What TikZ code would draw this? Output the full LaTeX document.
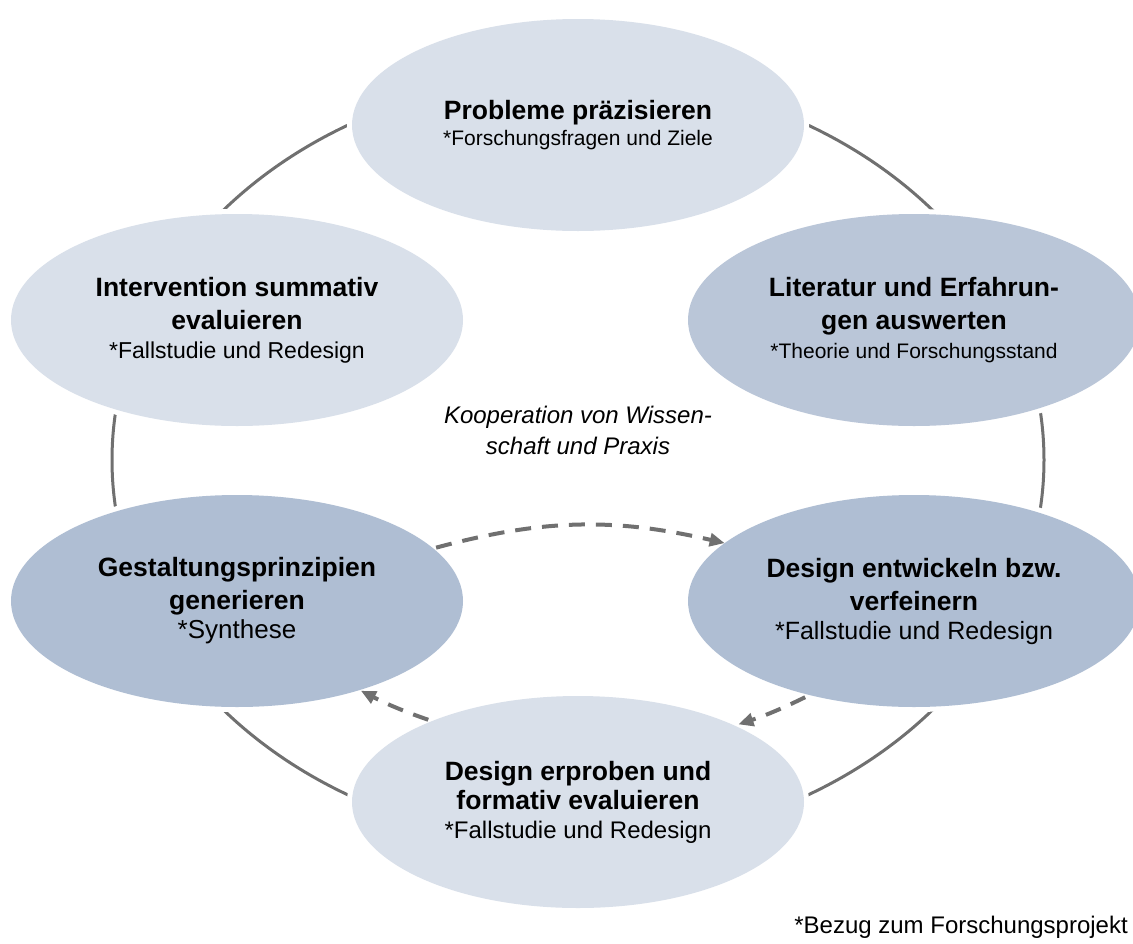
\documentclass[tikz,border=0pt]{standalone}
\usepackage{fontspec}
\setmainfont{Liberation Sans}
\usetikzlibrary{shapes.geometric,arrows.meta}
\definecolor{lightfill}{HTML}{D9E0EA}
\definecolor{midfill}{HTML}{BAC6D8}
\definecolor{darkfill}{HTML}{AFBED3}
\definecolor{linegray}{HTML}{707070}
\newcommand{\ttl}{\fontsize{26.5}{30}\selectfont\bfseries}
\newcommand{\sbf}[1]{\fontsize{#1}{29}\selectfont}
\begin{document}
\begin{tikzpicture}[x=1pt,y=-1pt,
  phase/.style={ellipse, minimum width=452pt, minimum height=212pt, inner sep=0pt, outer sep=0pt,
    preaction={draw=white, line width=10pt}, align=center, font=\fontsize{24}{29}\selectfont},
  ring/.style={draw=linegray, line width=3pt},
  flow/.style={draw=linegray, line width=4pt, dash pattern=on 16pt off 11pt,
    -{Triangle[length=15pt,width=13pt]}},
  plain/.style={align=center, inner sep=0pt}]
\useasboundingbox (0,0) rectangle (1133,943);
\draw[ring] (578,460) ellipse [x radius=466, y radius=385];
\node[phase, fill=lightfill, font=\fontsize{21}{26}\selectfont] (top) at (578,125)
  {\ttl Probleme präzisieren\\ \sbf{21}*Forschungsfragen und Ziele};
\node[phase, fill=lightfill] (ul) at (237,320)
  {\ttl Intervention summativ\\[4pt] \ttl evaluieren\\ \sbf{23}*Fallstudie und Redesign};
\node[phase, fill=midfill] (ur) at (914,320)
  {\ttl Literatur und Erfahrun-\\[4pt] \ttl gen auswerten\\ \sbf{21}*Theorie und Forschungsstand};
\node[phase, fill=darkfill] (ll) at (237,601)
  {\ttl Gestaltungsprinzipien\\[4pt] \ttl generieren\\ \sbf{26}*Synthese};
\node[phase, fill=darkfill] (lr) at (914,601)
  {\ttl Design entwickeln bzw.\\[4pt] \ttl verfeinern\\ \sbf{25}*Fallstudie und Redesign};
\node[phase, fill=lightfill] (b) at (578,802)
  {\ttl Design erproben und\\ \ttl formativ evaluieren\\ \sbf{24}*Fallstudie und Redesign};
\node[plain, font=\itshape\fontsize{24}{31}\selectfont] (koop) at (578,430)
  {Kooperation von Wissen-\\schaft und Praxis};
\node[anchor=base east, inner sep=0pt, font=\fontsize{24}{29}\selectfont] (note) at (1128,933)
  {*Bezug zum Forschungsprojekt};
\draw[flow, shorten <=3pt] (ll.15) to[bend left=14] (lr.163);
\draw[flow, shorten <=5pt, shorten >=4pt] (lr.222) to[bend left=4] (b.26);
\draw[flow, shorten <=4pt, shorten >=1.5pt] (b.151) to[bend left=4] (ll.324);
\end{tikzpicture}
\end{document}
